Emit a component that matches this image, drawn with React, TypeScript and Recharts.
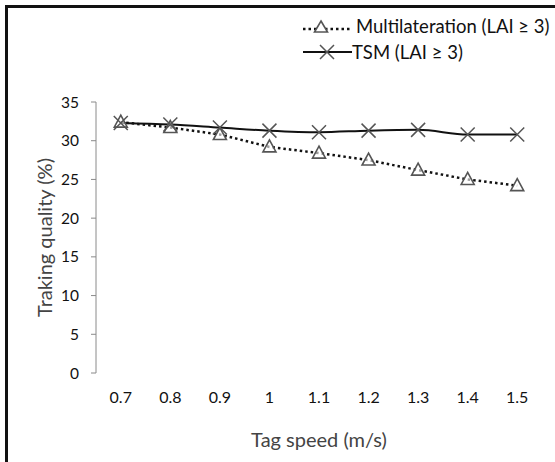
import { ComposedChart, Line, XAxis, YAxis, Legend, Label } from 'recharts'

const speeds = ['0.7', '0.8', '0.9', '1', '1.1', '1.2', '1.3', '1.4', '1.5']
const multilateration = [32.4, 31.7, 30.8, 29.2, 28.4, 27.5, 26.2, 25.0, 24.2]
const tsm = [32.3, 32.1, 31.7, 31.3, 31.1, 31.3, 31.4, 30.8, 30.8]
const yTicks = [0, 5, 10, 15, 20, 25, 30, 35]
const boundaryTicks = [0, 1, 2, 3, 4, 5, 6, 7, 8, 9]

const data = speeds.map((s, i) => ({ speed: s, multi: multilateration[i], tsm: tsm[i] }))

const FONT = 'Lato, "Open Sans", sans-serif'
const AXIS = '#8a8a8a'

function Triangle({ cx, cy }: any) {
  if (cx == null || cy == null) return null
  return (
    <path
      d={`M${cx},${cy - 7} L${cx + 6.5},${cy + 5} L${cx - 6.5},${cy + 5} Z`}
      fill="#fff"
      fillOpacity={0.6}
      stroke="#555"
      strokeWidth={1.6}
    />
  )
}

function Cross({ cx, cy }: any) {
  if (cx == null || cy == null) return null
  const r = 7
  return (
    <path
      d={`M${cx - r},${cy - r} L${cx + r},${cy + r} M${cx - r},${cy + r} L${cx + r},${cy - r}`}
      stroke="#555"
      strokeWidth={1.5}
    />
  )
}

function LegendBox() {
  return (
    <div style={{ fontFamily: FONT, fontSize: 18.5, color: '#111', lineHeight: '26px' }}>
      <div style={{ display: 'flex', alignItems: 'center' }}>
        <svg width={52} height={18}>
          <line x1={1} y1={12} x2={50} y2={12} stroke="#111" strokeWidth={2.5} strokeDasharray="2.5 3" />
          <path d="M19,4 L25.5,15 L12.5,15 Z" fill="#fff" stroke="#555" strokeWidth={1.6} />
        </svg>
        <span style={{ marginLeft: 2 }}>Multilateration (LAI ≥ 3)</span>
      </div>
      <div style={{ display: 'flex', alignItems: 'center' }}>
        <svg width={50} height={18}>
          <line x1={1} y1={9} x2={50} y2={9} stroke="#111" strokeWidth={2} />
          <path d="M18,2 L32,16 M18,16 L32,2" stroke="#555" strokeWidth={1.5} />
        </svg>
        <span>TSM (LAI ≥ 3)</span>
      </div>
    </div>
  )
}

export default function App() {
  return (
    <div style={{ position: 'absolute', left: 0, top: 0, width: 555, height: 462, overflow: 'hidden', background: '#fff' }}>
      <div
        style={{
          position: 'absolute',
          left: 5,
          top: 5,
          width: 600,
          height: 500,
          border: '3px solid #111',
          boxSizing: 'border-box',
        }}
      />
      <div style={{ position: 'absolute', left: 0, top: 0 }}>
        <ComposedChart
          width={555}
          height={462}
          data={data}
          margin={{ top: 50, right: 13, bottom: 11, left: 0 }}
          style={{ fontFamily: FONT }}
        >
          <XAxis
            xAxisId="edges"
            type="number"
            domain={[0, 9]}
            ticks={boundaryTicks}
            tick={false}
            tickSize={5}
            height={0}
            axisLine={{ stroke: AXIS }}
            tickLine={{ stroke: AXIS }}
            allowDataOverflow
          />
          <XAxis
            dataKey="speed"
            scale="band"
            height={78}
            axisLine={false}
            tickLine={false}
            tickMargin={13}
            tick={{ fill: '#111', fontSize: 16 }}
            interval={0}
          >
            <Label value="Tag speed (m/s)" position="insideBottom" offset={4} fill="#444" fontSize={20} />
          </XAxis>
          <YAxis
            width={96}
            domain={[0, 35]}
            ticks={yTicks}
            interval={0}
            tickSize={5}
            tickMargin={12}
            axisLine={{ stroke: AXIS }}
            tickLine={{ stroke: AXIS }}
            tick={{ fill: '#111', fontSize: 15.5 }}
          >
            <Label value="Traking quality (%)" position="center" angle={-90} dx={-3} fill="#444" fontSize={20} />
          </YAxis>
          <Legend
            verticalAlign="top"
            align="left"
            content={<LegendBox />}
            wrapperStyle={{ position: 'absolute', left: 302, top: 13, width: 260 }}
          />
          <Line
            type="linear"
            dataKey="multi"
            stroke="#111"
            strokeWidth={2.5}
            strokeDasharray="2.5 3"
            dot={<Triangle />}
            activeDot={false}
            isAnimationActive={false}
          />
          <Line
            type="monotone"
            dataKey="tsm"
            stroke="#111"
            strokeWidth={2}
            dot={<Cross />}
            activeDot={false}
            isAnimationActive={false}
          />
        </ComposedChart>
      </div>
    </div>
  )
}
